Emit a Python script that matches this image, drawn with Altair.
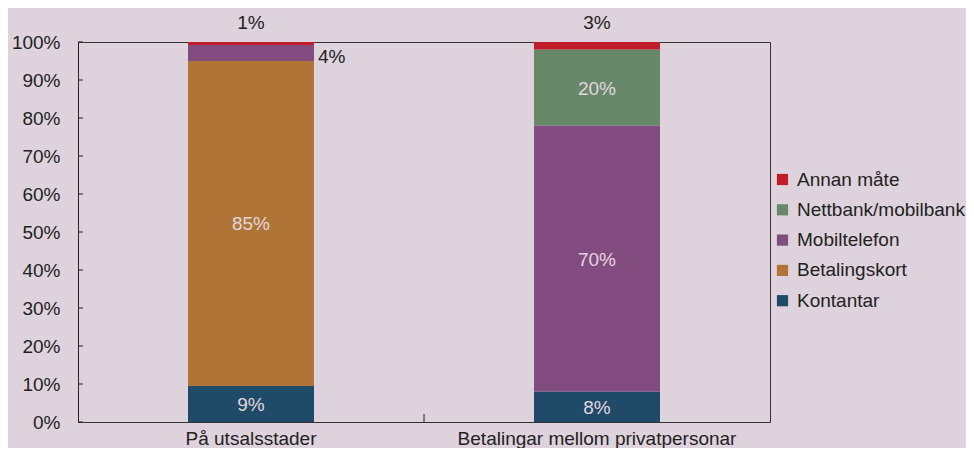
import altair as alt
import pandas as pd

categories = ["På utsalsstader", "Betalingar mellom privatpersonar"]
segments = ["Kontantar", "Betalingskort", "Mobiltelefon", "Nettbank/mobilbank", "Annan måte"]
colors = ["#1f4a68", "#b07437", "#834c80", "#68886a", "#c21b2a"]

vals_utsal = [9.5, 85.5, 4.2, 0.0, 0.8]
vals_priv = [8.0, 0.0, 70.0, 20.0, 2.0]
labels_utsal = ["9%", "85%", "4%", "", "1%"]
labels_priv = ["8%", "", "70%", "20%", "3%"]
kinds_utsal = ["in", "in", "right", "none", "top"]
kinds_priv = ["in", "none", "in", "in", "top"]

y_ticks = list(range(0, 101, 10))

rows = []
for cat, vals, labs, kinds in [
    (categories[0], vals_utsal, labels_utsal, kinds_utsal),
    (categories[1], vals_priv, labels_priv, kinds_priv),
]:
    for i, (s, v, l, k) in enumerate(zip(segments, vals, labs, kinds)):
        rows.append({"cat": cat, "seg": s, "value": v, "ord": i, "label": l, "kind": k})
df = pd.DataFrame(rows)

FONT = "Liberation Sans"
FS = 19
legend_order = segments[::-1]
legend_colors = colors[::-1]

xscale = alt.Scale(domain=categories, paddingInner=0, paddingOuter=0)
yscale = alt.Scale(domain=[0, 100], nice=False)
xaxis = alt.Axis(labelAngle=0, ticks=False, domain=False, labelFontSize=FS, labelLimit=500,
                 labelColor="#222", labelPadding=7, labelFont=FONT, title=None)
yaxis = alt.Axis(values=y_ticks, labelExpr="datum.value + '%'", title=None,
                 ticks=False, domain=True, domainColor="#222", grid=False,
                 labelFontSize=FS, labelColor="#222", labelPadding=18, labelFont=FONT)

base = alt.Chart(df)

bars = base.mark_bar(size=126).encode(
    x=alt.X("cat:N", title=None, scale=xscale, axis=xaxis),
    y=alt.Y("value:Q", stack="zero", title=None, scale=yscale, axis=yaxis),
    color=alt.Color("seg:N", scale=alt.Scale(domain=legend_order, range=legend_colors),
                    legend=alt.Legend(title=None, orient="none", legendX=695, legendY=128,
                                      symbolType="square", symbolSize=125, symbolStrokeWidth=0,
                                      labelFontSize=FS, labelColor="#222", labelFont=FONT,
                                      labelLimit=400, rowPadding=10.3, labelOffset=5)),
    order=alt.Order("ord:Q", sort="ascending"),
)

stacked = base.transform_stack(
    stack="value", groupby=["cat"], sort=[alt.SortField("ord", order="ascending")], as_=["y0", "y1"]
).transform_calculate(mid="(datum.y0 + datum.y1) / 2")

xplain = alt.X("cat:N", title=None, scale=xscale, axis=xaxis)

inside = stacked.transform_filter("datum.kind == 'in'").mark_text(
    fontSize=FS, color="#e3d6de", font=FONT, dy=1
).encode(x=xplain, y=alt.Y("mid:Q", title=None, scale=yscale, axis=yaxis), text="label:N")

right = stacked.transform_filter("datum.kind == 'right'").mark_text(
    fontSize=FS, color="#222", font=FONT, align="left", dx=67, dy=4
).encode(x=xplain, y=alt.Y("mid:Q", title=None, scale=yscale, axis=yaxis), text="label:N")

top = base.transform_filter("datum.kind == 'top'").mark_text(
    fontSize=FS, color="#222", font=FONT
).encode(x=xplain, y=alt.value(-19), text="label:N")

ytick_df = pd.DataFrame({"t": y_ticks})
yticks = alt.Chart(ytick_df).mark_rule(color="#222").encode(
    y=alt.Y("t:Q", title=None, scale=yscale, axis=yaxis), x=alt.value(0), x2=alt.value(5)
)

midtick = alt.Chart(pd.DataFrame({"cat": [categories[1]]})).mark_rule(color="#222").encode(
    x=alt.X("cat:N", title=None, scale=xscale, axis=xaxis, bandPosition=0),
    y=alt.value(380), y2=alt.value(372)
)

chart = alt.layer(bars, inside, right, top, yticks, midtick).properties(
    width=692, height=380, background="#ded3dc",
    padding={"left": 70, "top": 34, "right": 196, "bottom": 26},
    autosize=alt.AutoSizeParams(type="none"),
).configure_view(stroke="#333", strokeWidth=1).configure_text(font=FONT)

chart.save("out.html", embed_options={"renderer": "svg", "actions": False})
